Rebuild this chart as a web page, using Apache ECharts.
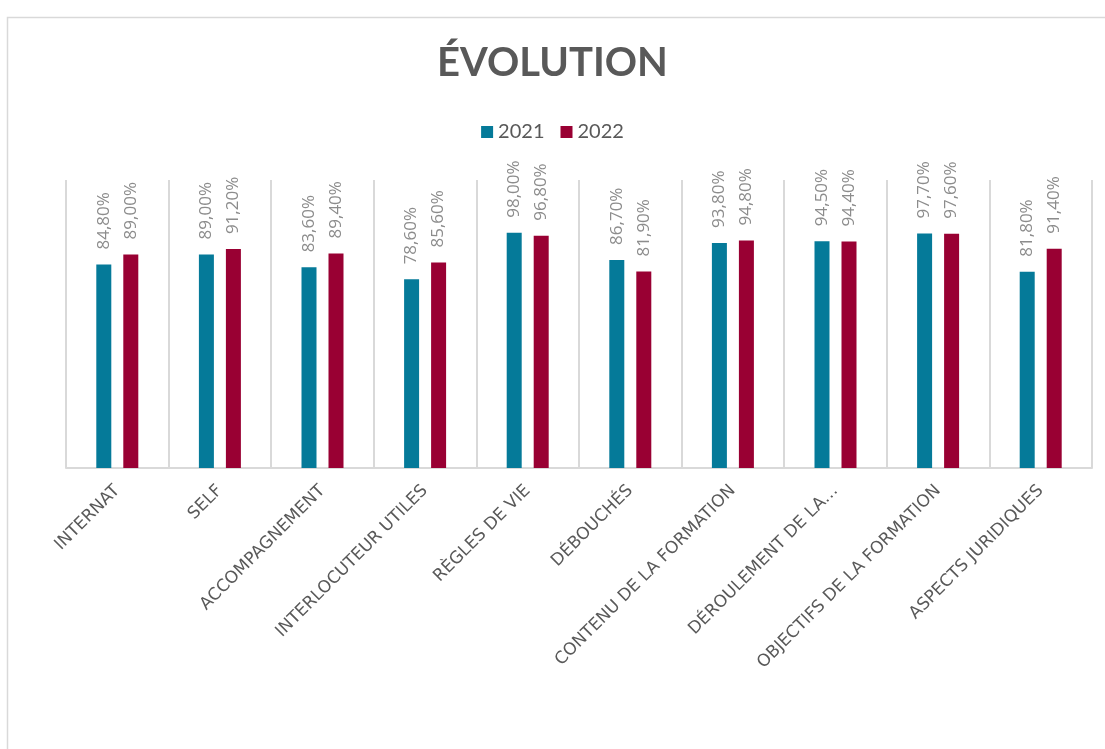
<!DOCTYPE html>
<html>
<head>
<meta charset="utf-8">
<script src="https://cdn.jsdelivr.net/npm/echarts@6/dist/echarts.min.js"></script>
<style>
  html, body { margin: 0; padding: 0; background: #fff; }
  #chart { width: 1105px; height: 749px; }
</style>
</head>
<body>
<div id="chart"></div>
<script>
// categories (as shown on the axis)
var categories = ['INTERNAT', 'SELF', 'ACCOMPAGNEMENT', 'INTERLOCUTEUR UTILES', 'RÈGLES DE VIE',
  'DÉBOUCHÉS', 'CONTENU DE LA FORMATION', 'DÉROULEMENT DE LA…', 'OBJECTIFS DE LA FORMATION', 'ASPECTS JURIDIQUES'];
var series2021 = [84.8, 89.0, 83.6, 78.6, 98.0, 86.7, 93.8, 94.5, 97.7, 81.8];
var series2022 = [89.0, 91.2, 89.4, 85.6, 96.8, 81.9, 94.8, 94.4, 97.6, 91.4];

var chart = echarts.init(document.getElementById('chart'));

// 84.8 -> "84,80%"
var fmt = function(p){
  return p.value.toFixed(2).replace('.', ',') + '%';
};

var barLabel = {
  show: true
  ,position: 'top'
  ,rotate: 90
  ,align: 'left'
  ,verticalAlign: 'middle'
  ,distance: 15
  ,color: '#8c8c8c'
  ,fontSize: 17
  ,fontFamily: 'Open Sans'
  ,formatter: fmt
};

chart.setOption({
  backgroundColor: '#fff'
  ,animation: false
  ,graphic: [{
    type: 'rect'
    ,left: 5, top: 15
    ,shape: { width: 1110, height: 745 }
    ,style: { fill: 'none', stroke: '#d9d9d9', lineWidth: 1.5 }
  }]
  ,title: {
    text: 'ÉVOLUTION'
    ,left: 'center'
    ,top: 38
    ,textStyle: { fontFamily: 'Lato', fontWeight: 'bold', fontSize: 40, color: '#595959' }
  }
  ,legend: {
    top: 117
    ,left: 'center'
    ,itemWidth: 12
    ,itemHeight: 12
    ,itemGap: 16
    ,icon: 'rect'
    ,textStyle: { fontFamily: 'Lato', fontSize: 20, color: '#595959' }
    ,data: ['2021', '2022']
  }
  ,grid: { left: 66, right: 13, top: 180, bottom: 281, containLabel: false }
  ,xAxis: {
    type: 'category'
    ,data: categories
    ,axisLine: { lineStyle: { color: '#d9d9d9', width: 2 } }
    ,axisTick: { show: false }
    ,splitLine: { show: true, lineStyle: { color: '#d9d9d9', width: 2 } }
    ,axisLabel: {
      interval: 0
      ,rotate: 45
      ,margin: 20
      ,color: '#595959'
      ,fontSize: 17
      ,fontFamily: 'DejaVu Sans'
    }
  }
  ,yAxis: {
    type: 'value'
    ,min: 0
    ,max: 120
    ,show: false
    ,splitLine: { show: false }
  }
  ,series: [
    {
      name: '2021'
      ,type: 'bar'
      ,data: series2021
      ,barWidth: 15
      ,barGap: '80%'
      ,itemStyle: { color: '#057a99' }
      ,label: barLabel
    }
    ,{
      name: '2022'
      ,type: 'bar'
      ,data: series2022
      ,barWidth: 15
      ,itemStyle: { color: '#990033' }
      ,label: barLabel
    }
  ]
});
</script>
</body>
</html>
